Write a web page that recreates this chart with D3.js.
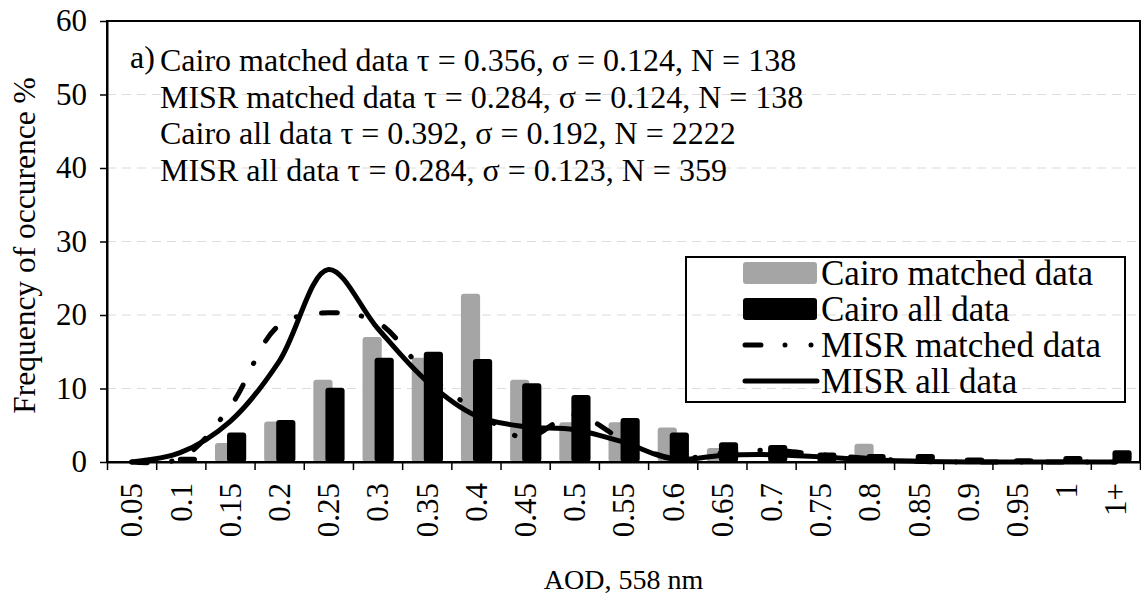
<!DOCTYPE html>
<html>
<head>
<meta charset="utf-8">
<script src="https://cdn.jsdelivr.net/npm/d3@7"></script>
<style>
  body { margin: 0; background: #fff; }
  text { font-family: "Liberation Serif", "Times New Roman", serif; fill: #000; }
</style>
</head>
<body>
<div id="chart"></div>
<script>
// AOD bins
const categories = ['0.05','0.1','0.15','0.2','0.25','0.3','0.35','0.4','0.45','0.5','0.55',
  '0.6','0.65','0.7','0.75','0.8','0.85','0.9','0.95','1','1+'];

// frequency of occurence, %
const cairoMatched = [0, 0, 2.6, 5.5, 11.2, 17.0, 14.2, 22.9, 11.2, 5.4, 5.4, 4.7, 1.9, 0, 0, 2.5, 0, 0, 0, 0, 0];
const cairoAll     = [0, 0.7, 4.0, 5.7, 10.1, 14.2, 15.0, 14.0, 10.7, 9.1, 6.0, 4.0, 2.7, 2.3, 1.3, 1.1, 1.1, 0.6, 0.5, 0.8, 1.6];
const misrMatched  = [0, 0.5, 7.5, 18.6, 20.3, 19.0, 12.0, 7.0, 3.3, 6.4, 3.0, 0.5, 1.2, 1.6, 1.0, 0.5, 0.1, 0, 0, 0, 0];
const misrAll      = [0, 1.3, 5.5, 13.7, 26.2, 18.2, 11.0, 6.3, 4.8, 4.4, 2.7, 0.4, 0.9, 1.0, 0.7, 0.3, 0.1, 0, 0, 0, 0];

const yTicks = [0, 10, 20, 30, 40, 50, 60];

const notes = [
  'Cairo matched data \u03c4 = 0.356, \u03c3 = 0.124, N = 138',
  'MISR matched data \u03c4 = 0.284, \u03c3 = 0.124, N = 138',
  'Cairo all data \u03c4 = 0.392, \u03c3 = 0.192, N = 2222',
  'MISR all data \u03c4 = 0.284, \u03c3 = 0.123, N = 359'
];
const legendLabels = ['Cairo matched data', 'Cairo all data', 'MISR matched data', 'MISR all data'];

const width = 1141, height = 609;
const margin = {top: 21, right: 1, bottom: 147, left: 107};
const innerW = width - margin.left - margin.right;
const innerH = height - margin.top - margin.bottom;

const svg = d3.select('#chart')
  .append('svg')
  .attr('width', width)
  .attr('height', height);

const g = svg.append('g')
  .attr('transform', 'translate(' + margin.left + ',' + margin.top + ')');

const x = d3.scaleBand().domain(categories).range([0, innerW]).padding(0);
const xi = d3.scaleLinear().domain([0, categories.length]).range([0, innerW]);
const y = d3.scaleLinear().domain([0, 60]).range([innerH, 0]);
const bw = x.bandwidth();

// gridlines
g.selectAll('line.grid')
  .data(yTicks.filter(d => d > 0 && d < 60))
  .enter().append('line')
  .attr('class', 'grid')
  .attr('x1', 0).attr('x2', innerW)
  .attr('y1', d => y(d)).attr('y2', d => y(d))
  .attr('stroke', '#dcdcdc')
  .attr('stroke-width', 1.2)
  .attr('stroke-dasharray', '9,6');

// bars
g.selectAll('rect.matched')
  .data(cairoMatched)
  .enter().append('rect')
  .attr('class', 'matched')
  .attr('x', (d, i) => x(categories[i]) + bw * 0.195)
  .attr('width', bw * 0.39)
  .attr('y', d => y(d))
  .attr('height', d => innerH - y(d))
  .attr('rx', 3)
  .attr('fill', '#a5a5a5');

g.selectAll('rect.all')
  .data(cairoAll)
  .enter().append('rect')
  .attr('class', 'all')
  .attr('x', (d, i) => x(categories[i]) + bw * 0.44)
  .attr('width', bw * 0.39)
  .attr('y', d => y(d))
  .attr('height', d => innerH - y(d))
  .attr('rx', 3)
  .attr('fill', '#000');

// smoothed lines
const line = d3.line()
  .x((d, i) => x(categories[i]) + bw / 2)
  .y(d => y(d))
  .curve(d3.curveCatmullRom.alpha(0.5));

g.append('path')
  .datum(misrMatched)
  .attr('d', line)
  .attr('fill', 'none')
  .attr('stroke', '#000')
  .attr('stroke-width', 5)
  .attr('stroke-linecap', 'round')
  .attr('stroke-dasharray', '16,24,0.5,25');

g.append('path')
  .datum(misrAll)
  .attr('d', line)
  .attr('fill', 'none')
  .attr('stroke', '#000')
  .attr('stroke-width', 5)
  .attr('stroke-linecap', 'round')
  .attr('stroke-linejoin', 'round');

// frame
g.append('rect')
  .attr('width', innerW).attr('height', innerH)
  .attr('fill', 'none')
  .attr('stroke', '#000')
  .attr('stroke-width', 2);

// y axis
const yAxis = g.append('g')
  .call(d3.axisLeft(y).tickValues(yTicks).tickSize(7).tickSizeOuter(0).tickPadding(13));
yAxis.select('.domain').attr('stroke-width', 2);
yAxis.selectAll('.tick line').attr('stroke-width', 1.5);
yAxis.selectAll('text').style('font-size', '31px').attr('fill', '#000');

// x axis ticks at bin edges
const xTicks = g.append('g')
  .attr('transform', 'translate(0,' + innerH + ')')
  .call(d3.axisBottom(xi).tickValues(d3.range(categories.length + 1)).tickSize(8).tickSizeOuter(0).tickFormat(''));
xTicks.select('.domain').attr('stroke-width', 2);
xTicks.selectAll('.tick line').attr('stroke-width', 1.5);

// x labels
const xLabels = g.append('g')
  .attr('transform', 'translate(0,' + innerH + ')')
  .call(d3.axisBottom(x).tickSize(0));
xLabels.select('.domain').remove();
xLabels.selectAll('text')
  .style('font-size', '31px')
  .style('text-anchor', 'end')
  .attr('fill', '#000')
  .attr('transform', 'rotate(-90)')
  .attr('x', -21)
  .attr('y', 0)
  .attr('dy', '0.35em');

// axis titles
svg.append('text')
  .attr('transform', 'translate(24,' + (margin.top + innerH / 2 + 4) + ') rotate(-90)')
  .attr('text-anchor', 'middle')
  .attr('dy', '0.35em')
  .style('font-size', '31.5px')
  .text('Frequency of occurence %');

svg.append('text')
  .attr('x', margin.left + innerW / 2)
  .attr('y', 589)
  .attr('text-anchor', 'middle')
  .style('font-size', '28px')
  .text('AOD, 558 nm');

// statistics text
svg.append('text')
  .attr('x', 130).attr('y', 68)
  .style('font-size', '32px')
  .text('a)');

svg.selectAll('text.note')
  .data(notes)
  .enter().append('text')
  .attr('class', 'note')
  .attr('x', 160)
  .attr('y', (d, i) => 71 + i * 36.7)
  .style('font-size', '32px')
  .text(d => d);

// legend
const legend = svg.append('g').attr('transform', 'translate(686,257)');
legend.append('rect')
  .attr('width', 439).attr('height', 145)
  .attr('fill', 'none')
  .attr('stroke', '#000')
  .attr('stroke-width', 2);

const row = i => 16 + i * 36;
legend.append('rect').attr('x', 57).attr('y', row(0) - 11).attr('width', 74).attr('height', 22).attr('rx', 3).attr('fill', '#a5a5a5');
legend.append('rect').attr('x', 57).attr('y', row(1) - 11).attr('width', 74).attr('height', 22).attr('rx', 3).attr('fill', '#000');
legend.append('line').attr('x1', 59).attr('x2', 131).attr('y1', row(2)).attr('y2', row(2))
  .attr('stroke', '#000').attr('stroke-width', 5).attr('stroke-linecap', 'round')
  .attr('stroke-dasharray', '16,24,0,26,0,100');
legend.append('line').attr('x1', 59).attr('x2', 131).attr('y1', row(3)).attr('y2', row(3))
  .attr('stroke', '#000').attr('stroke-width', 5).attr('stroke-linecap', 'round');

legend.selectAll('text')
  .data(legendLabels)
  .enter().append('text')
  .attr('x', 135)
  .attr('y', (d, i) => row(i))
  .attr('dy', '0.33em')
  .style('font-size', '35px')
  .text(d => d);
</script>
</body>
</html>
